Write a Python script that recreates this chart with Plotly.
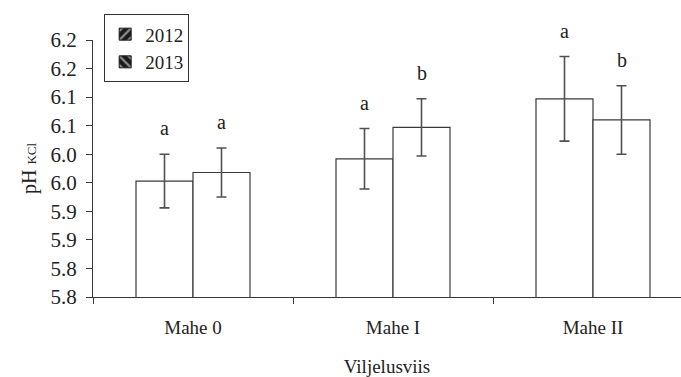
import plotly.graph_objects as go

categories = ["Mahe 0", "Mahe I", "Mahe II"]
years = ["2012", "2013"]
values_2012 = [5.953, 5.992, 6.097]
values_2013 = [5.968, 6.047, 6.060]
err_2012 = [0.047, 0.053, 0.074]
err_2013 = [0.043, 0.050, 0.060]
letters_2012 = ["a", "a", "a"]
letters_2013 = ["a", "b", "b"]
ytick_vals = [5.75, 5.80, 5.85, 5.90, 5.95, 6.00, 6.05, 6.10, 6.15, 6.20]
ytick_text = ["5.8", "5.8", "5.9", "5.9", "6.0", "6.0", "6.1", "6.1", "6.2", "6.2"]

FONT = "Liberation Serif, Times New Roman, DejaVu Serif, serif"
LINE = "#3a3a3a"

fig = go.Figure()
series = [(values_2012, err_2012), (values_2013, err_2013)]
for (vals, errs), yr in zip(series, years):
    fig.add_trace(go.Bar(
        x=categories, y=vals, name=yr, showlegend=False,
        marker=dict(color="white", line=dict(color=LINE, width=1.2)),
        error_y=dict(type="data", array=errs, visible=True,
                     color="#505050", thickness=1.6, width=5),
    ))

# legend-only entries with patterned swatches (on a hidden overlay axis)
for yr, shape in zip(years, ["/", "\\"]):
    fig.add_trace(go.Bar(
        x=[categories[0]], y=[None], name=yr, showlegend=True,
        xaxis="x2", yaxis="y",
        marker=dict(color="#1a1a1a", line=dict(color="#1a1a1a", width=1),
                    pattern=dict(shape=shape, fgcolor="white", bgcolor="#1a1a1a",
                                 size=8, solidity=0.35)),
    ))

annotations = []
for i, cat in enumerate(categories):
    for vals, errs, lets, shift in [(values_2012, err_2012, letters_2012, -28.5),
                                    (values_2013, err_2013, letters_2013, 28.5)]:
        annotations.append(dict(
            x=cat, y=vals[i] + errs[i], text=lets[i], showarrow=False,
            xref="x", yref="y", xshift=shift, yanchor="bottom", yshift=13,
            font=dict(family=FONT, size=20, color="#222"),
        ))

fig.update_layout(
    width=681, height=377,
    margin=dict(l=93, r=0, t=40, b=80, autoexpand=False),
    paper_bgcolor="white", plot_bgcolor="white",
    barmode="group", bargap=0.43, bargroupgap=0,
    font=dict(family=FONT, size=18, color="#222"),
    showlegend=True,
    legend=dict(x=0.019, y=1.10, xanchor="left", yanchor="top",
                bordercolor="#333", borderwidth=1, bgcolor="white",
                font=dict(family=FONT, size=19, color="#222"),
                tracegroupgap=0, itemwidth=30,
                traceorder="normal"),
    annotations=annotations,
    xaxis=dict(type="category", categoryorder="array", categoryarray=categories,
               range=[-0.5, 2.44], showline=True, linecolor=LINE, linewidth=1.2,
               ticks="outside", tickson="boundaries", ticklen=6, tickcolor=LINE,
               ticklabelstandoff=13, showgrid=False, zeroline=False, automargin=False,
               tickfont=dict(family=FONT, size=19, color="#222"),
               title=dict(text="Viljelusviis", standoff=24,
                          font=dict(family=FONT, size=19, color="#222"))),
    xaxis2=dict(type="category", categoryorder="array", categoryarray=categories,
                range=[-0.5, 2.44], overlaying="x", visible=False, automargin=False),
    yaxis=dict(range=[5.75, 6.20], tickvals=ytick_vals, ticktext=ytick_text,
               showline=True, linecolor=LINE, linewidth=1.2, automargin=False,
               ticks="outside", ticklen=6, tickcolor=LINE, showgrid=False,
               zeroline=False, ticklabelstandoff=5,
               tickfont=dict(family=FONT, size=21, color="#222"),
               title=dict(text="pH <span style='font-size:13px'>KCl</span>", standoff=8,
                          font=dict(family=FONT, size=20, color="#222"))),
)

fig.write_html("out.html", config={"displayModeBar": False},
               post_script="document.body.style.margin='0';document.body.style.overflow='hidden';")
